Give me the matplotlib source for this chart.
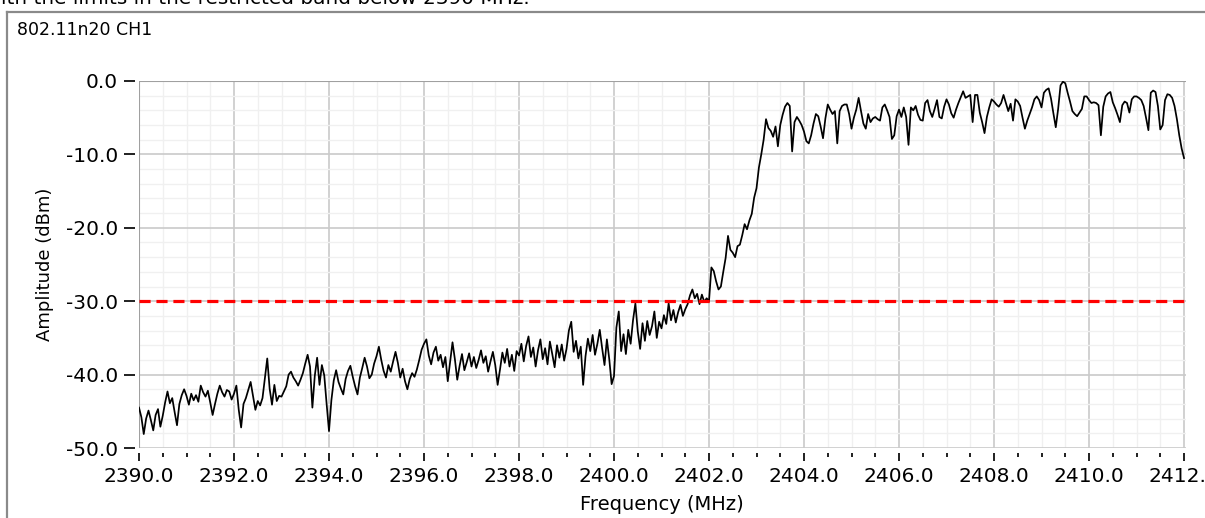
import numpy as np
import matplotlib
matplotlib.use("Agg")
import matplotlib.pyplot as plt
from matplotlib.ticker import MultipleLocator, FormatStrFormatter
from matplotlib.lines import Line2D

# ---------------- data ----------------
title = "802.11n20 CH1"
caption = "ith the limits in the restricted band below 2390 MHz."
x_label = "Frequency (MHz)"
y_label = "Amplitude (dBm)"
limit_dbm = -30.0
f_start, f_step = 2390.0, 0.05

# amplitude (dBm), one list per MHz, 0.05 MHz apart
r2390 = [-44.5, -45.8, -48.1, -46.0, -44.9, -46.2, -47.6, -45.5, -44.7, -47.1, -45.6, -43.8, -42.3, -43.9, -43.2, -45.1, -46.9, -44.0, -42.8, -42.0]
r2391 = [-42.9, -44.1, -42.6, -43.5, -42.8, -43.7, -41.5, -42.4, -43.0, -42.2, -43.8, -45.5, -44.0, -42.6, -41.5, -42.4, -43.0, -42.1, -42.3, -43.4]
r2392 = [-42.6, -41.5, -44.8, -47.2, -44.0, -43.2, -42.1, -41.0, -42.9, -44.8, -43.6, -44.2, -43.2, -40.5, -37.8, -41.9, -44.1, -41.4, -43.6, -42.9]
r2393 = [-43.0, -42.3, -41.6, -40.0, -39.6, -40.4, -40.9, -41.5, -40.7, -39.8, -38.5, -37.3, -38.9, -44.5, -40.2, -37.7, -41.4, -38.7, -40.1, -44.0]
r2394 = [-47.7, -43.5, -40.8, -39.4, -41.0, -41.9, -42.7, -40.6, -39.5, -38.8, -40.3, -41.6, -42.7, -40.4, -39.1, -37.7, -38.9, -40.5, -40.0, -38.5]
r2395 = [-37.5, -36.2, -38.0, -39.5, -40.4, -38.7, -39.6, -38.2, -36.9, -38.4, -40.4, -39.2, -40.9, -42.0, -40.6, -39.8, -40.3, -39.3, -38.0, -36.6]
r2396 = [-35.8, -35.2, -37.4, -38.6, -37.0, -36.2, -38.1, -37.3, -39.0, -37.6, -40.9, -38.2, -35.6, -37.9, -40.7, -38.8, -37.2, -39.4, -38.3, -37.1]
r2397 = [-38.9, -37.6, -39.1, -38.0, -36.7, -38.4, -37.5, -39.6, -38.2, -36.9, -38.7, -41.4, -39.3, -37.0, -38.4, -36.5, -38.9, -37.3, -39.5, -36.8]
r2398 = [-37.4, -35.8, -38.2, -36.1, -34.8, -37.6, -36.3, -38.9, -36.7, -35.2, -37.9, -36.4, -38.6, -35.5, -37.2, -39.0, -36.0, -37.7, -35.9, -38.1]
r2399 = [-36.5, -34.0, -32.8, -36.9, -35.4, -37.8, -36.2, -41.4, -37.5, -35.1, -36.8, -34.6, -37.3, -35.8, -33.9, -36.4, -38.7, -35.2, -37.9, -41.3]
r2400 = [-40.2, -33.6, -31.4, -36.8, -34.5, -37.2, -33.9, -35.8, -32.6, -30.3, -34.1, -36.5, -33.0, -35.4, -32.7, -34.6, -33.4, -31.4, -35.0, -32.8]
r2401 = [-33.7, -31.9, -33.1, -30.3, -32.6, -31.2, -32.9, -31.5, -30.5, -32.0, -31.1, -30.4, -29.2, -28.4, -29.6, -29.0, -30.4, -29.1, -30.1, -29.6]
r2402 = [-30.0, -25.4, -25.9, -27.3, -28.4, -28.0, -26.0, -24.1, -21.1, -23.0, -23.4, -24.0, -22.5, -22.3, -21.0, -19.5, -20.2, -19.0, -18.1, -15.9]
r2403 = [-14.6, -11.8, -10.0, -8.0, -5.2, -6.4, -6.8, -7.6, -6.2, -8.9, -6.0, -4.6, -3.5, -3.0, -3.4, -9.6, -5.6, -4.9, -5.4, -6.0]
r2404 = [-6.9, -8.2, -8.5, -7.4, -5.8, -4.5, -4.8, -6.2, -7.8, -5.1, -3.2, -3.9, -4.5, -4.1, -8.5, -4.1, -3.4, -3.2, -3.2, -4.5]
r2405 = [-6.5, -5.0, -3.9, -2.3, -4.1, -5.8, -6.5, -4.5, -5.6, -5.1, -4.9, -5.2, -5.4, -3.6, -3.2, -4.0, -4.9, -7.9, -7.4, -4.8]
r2406 = [-3.9, -4.9, -3.6, -4.9, -8.7, -3.6, -4.0, -3.4, -4.6, -5.3, -5.4, -3.0, -2.6, -4.1, -4.9, -3.8, -2.6, -4.9, -5.1, -3.5]
r2407 = [-2.5, -3.2, -4.4, -5.0, -3.9, -3.0, -2.2, -1.4, -2.3, -2.1, -1.9, -5.6, -1.9, -1.9, -4.3, -5.6, -7.1, -4.9, -3.6, -2.5]
r2408 = [-2.8, -3.2, -3.5, -3.0, -1.9, -3.0, -4.1, -3.1, -5.4, -2.5, -2.8, -3.4, -5.0, -6.5, -5.4, -4.5, -3.6, -2.5, -2.1, -2.6]
r2409 = [-3.6, -1.6, -1.2, -1.0, -2.4, -4.4, -6.3, -3.8, -0.6, -0.1, -0.3, -1.6, -2.8, -4.1, -4.5, -4.8, -4.3, -3.8, -2.1, -2.1]
r2410 = [-2.6, -3.0, -2.9, -3.0, -3.3, -7.4, -3.5, -2.1, -1.7, -1.5, -2.9, -3.7, -4.6, -5.6, -3.3, -2.8, -3.0, -4.3, -2.5, -2.1]
r2411 = [-2.1, -2.3, -2.6, -3.4, -5.0, -6.7, -1.6, -1.3, -1.5, -3.4, -6.6, -6.0, -2.6, -1.8, -1.9, -2.3, -3.4, -5.2, -7.4, -9.2]
r2412 = [-10.5]

amp = np.array(r2390 + r2391 + r2392 + r2393 + r2394 + r2395 + r2396 + r2397 +
               r2398 + r2399 + r2400 + r2401 + r2402 + r2403 + r2404 + r2405 +
               r2406 + r2407 + r2408 + r2409 + r2410 + r2411 + r2412)
freq = f_start + f_step * np.arange(amp.size)

# ---------------- figure ----------------
plt.rcParams['font.family'] = ['DejaVu Sans']
plt.rcParams['lines.scale_dashes'] = False
W, H = 1205, 518
fig = plt.figure(figsize=(W / 100, H / 100), dpi=100)
fig.patch.set_facecolor('white')

L, R, T, B = 139, 1186.4, 81, 448
ax = fig.add_axes([L / W, 1 - B / H, (R - L) / W, (B - T) / H])
ax.set_xlim(2390, 2412.05)
ax.set_ylim(-50, 0)

ax.xaxis.set_major_locator(MultipleLocator(2))
ax.xaxis.set_minor_locator(MultipleLocator(0.5))
ax.yaxis.set_major_locator(MultipleLocator(10))
ax.yaxis.set_minor_locator(MultipleLocator(2))
ax.xaxis.set_major_formatter(FormatStrFormatter('%.1f'))
ax.yaxis.set_major_formatter(FormatStrFormatter('%.1f'))

ax.grid(which='major', color='#cacaca', lw=1.2)
ax.grid(which='minor', color='#f0f0f0', lw=1.0)
ax.set_axisbelow(True)

for s in ['top', 'right']:
    ax.spines[s].set_visible(False)
ax.spines['bottom'].set_position(('outward', 3.8))
ax.spines['bottom'].set_visible(False)
ax.spines['left'].set_position(('outward', 3.0))
ax.spines['left'].set_visible(False)

ax.tick_params(axis='x', which='major', length=6, width=1.4, color='#202020',
               labelsize=14.5, pad=4)
ax.tick_params(axis='x', which='minor', length=3, width=1.4, color='#202020')
ax.tick_params(axis='y', which='major', length=8, width=1.4, color='#202020',
               labelsize=14.5, pad=4)
ax.tick_params(axis='y', which='minor', length=0)

# plot frame (left + top)
ax.axvline(2390, color='#a0a0a0', lw=1.5, zorder=2.5)
ax.axhline(0, color='#a0a0a0', lw=1.5, zorder=2.5)

ax.plot(freq, amp, color='black', lw=1.25, zorder=3)
ax.axhline(limit_dbm, color='#ff0000', lw=2.3, dashes=(8, 4.2), zorder=4)

# texts
fig.text(17 / W, 1 - 30 / H, title, fontsize=12.5, ha='left', va='center')
fig.text(1 / W, 1 - 4 / H, caption, fontsize=14.4, ha='left', va='baseline')
fig.text(45 / W, 1 - 264 / H, y_label, fontsize=13, rotation=90,
         ha='center', va='center')
fig.text(662 / W, 1 - 505 / H, x_label, fontsize=14, ha='center', va='center')

# outer panel border
fig.add_artist(Line2D([6.5 / W, 6.5 / W], [0, 1 - 11.5 / H], color='#8a8a8a',
                      lw=1.6, transform=fig.transFigure))
fig.add_artist(Line2D([6.5 / W, 1], [1 - 11.5 / H, 1 - 11.5 / H], color='#8a8a8a',
                      lw=1.6, transform=fig.transFigure))

fig.savefig('out.png', dpi=100, facecolor='white')
